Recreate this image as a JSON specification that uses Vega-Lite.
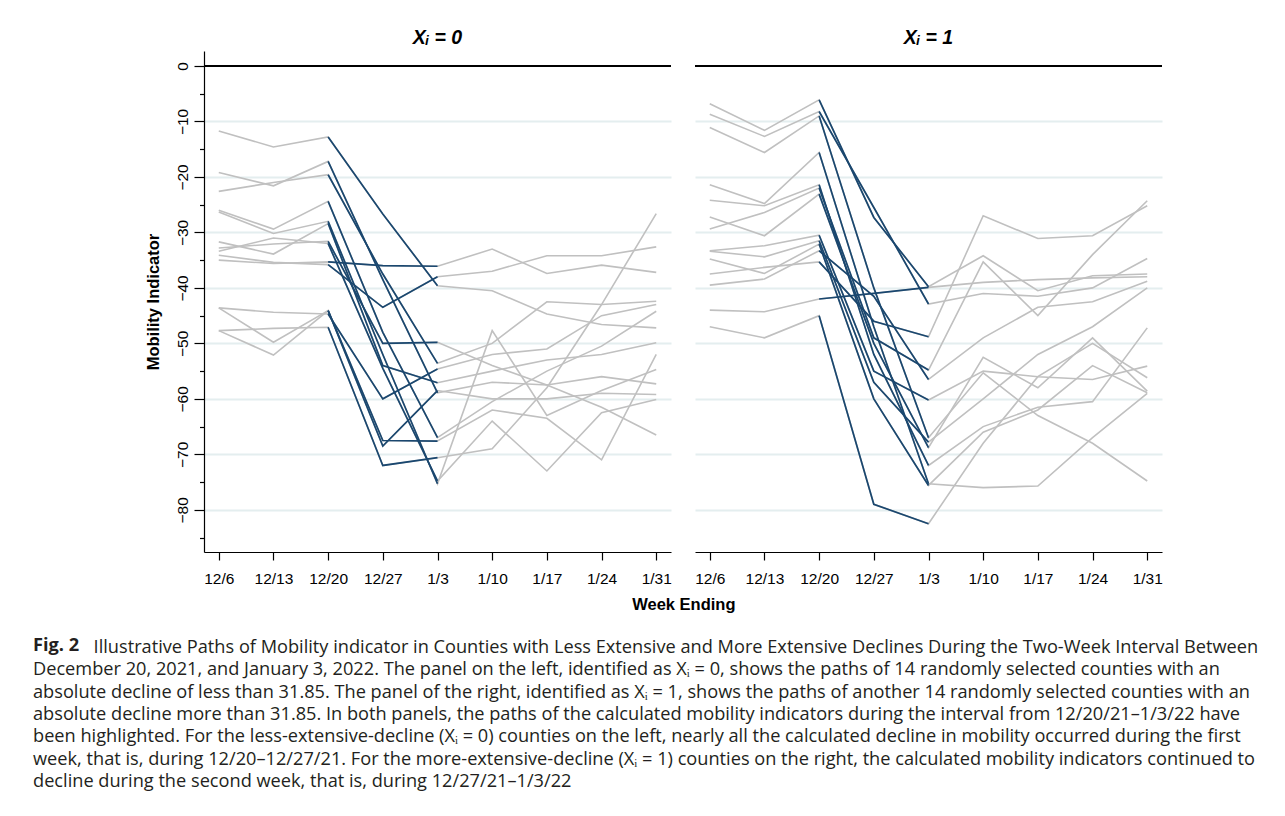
{
 "$schema": "https://vega.github.io/schema/vega-lite/v6.json",
 "background": "white",
 "padding": {"left": 33, "top": 27, "right": 5, "bottom": 5},
 "datasets": {
  "mob": [
   {"panel":0,"county":1,"week":"12/6","value":-11.7},{"panel":0,"county":1,"week":"12/13","value":-14.6},{"panel":0,"county":1,"week":"12/20","value":-12.8},{"panel":0,"county":1,"week":"12/27","value":-26.7},{"panel":0,"county":1,"week":"1/3","value":-39.6},{"panel":0,"county":1,"week":"1/10","value":-40.5},{"panel":0,"county":1,"week":"1/17","value":-44.7},{"panel":0,"county":1,"week":"1/24","value":-46.6},{"panel":0,"county":1,"week":"1/31","value":-47.2},
   {"panel":0,"county":2,"week":"12/6","value":-19.2},{"panel":0,"county":2,"week":"12/13","value":-21.6},{"panel":0,"county":2,"week":"12/20","value":-17.2},{"panel":0,"county":2,"week":"12/27","value":-38.5},{"panel":0,"county":2,"week":"1/3","value":-58.9},{"panel":0,"county":2,"week":"1/10","value":-57.0},{"panel":0,"county":2,"week":"1/17","value":-57.5},{"panel":0,"county":2,"week":"1/24","value":-56.0},{"panel":0,"county":2,"week":"1/31","value":-57.3},
   {"panel":0,"county":3,"week":"12/6","value":-22.6},{"panel":0,"county":3,"week":"12/13","value":-21.0},{"panel":0,"county":3,"week":"12/20","value":-19.6},{"panel":0,"county":3,"week":"12/27","value":-37.5},{"panel":0,"county":3,"week":"1/3","value":-53.6},{"panel":0,"county":3,"week":"1/10","value":-50.0},{"panel":0,"county":3,"week":"1/17","value":-42.5},{"panel":0,"county":3,"week":"1/24","value":-43.0},{"panel":0,"county":3,"week":"1/31","value":-42.4},
   {"panel":0,"county":4,"week":"12/6","value":-26.0},{"panel":0,"county":4,"week":"12/13","value":-29.4},{"panel":0,"county":4,"week":"12/20","value":-24.4},{"panel":0,"county":4,"week":"12/27","value":-48.0},{"panel":0,"county":4,"week":"1/3","value":-67.0},{"panel":0,"county":4,"week":"1/10","value":-60.5},{"panel":0,"county":4,"week":"1/17","value":-55.0},{"panel":0,"county":4,"week":"1/24","value":-50.5},{"panel":0,"county":4,"week":"1/31","value":-44.2},
   {"panel":0,"county":5,"week":"12/6","value":-26.3},{"panel":0,"county":5,"week":"12/13","value":-30.2},{"panel":0,"county":5,"week":"12/20","value":-28.0},{"panel":0,"county":5,"week":"12/27","value":-52.0},{"panel":0,"county":5,"week":"1/3","value":-75.3},{"panel":0,"county":5,"week":"1/10","value":-47.7},{"panel":0,"county":5,"week":"1/17","value":-63.0},{"panel":0,"county":5,"week":"1/24","value":-58.5},{"panel":0,"county":5,"week":"1/31","value":-54.7},
   {"panel":0,"county":6,"week":"12/6","value":-31.7},{"panel":0,"county":6,"week":"12/13","value":-33.9},{"panel":0,"county":6,"week":"12/20","value":-28.4},{"panel":0,"county":6,"week":"12/27","value":-54.0},{"panel":0,"county":6,"week":"1/3","value":-57.1},{"panel":0,"county":6,"week":"1/10","value":-55.0},{"panel":0,"county":6,"week":"1/17","value":-53.0},{"panel":0,"county":6,"week":"1/24","value":-52.0},{"panel":0,"county":6,"week":"1/31","value":-49.9},
   {"panel":0,"county":7,"week":"12/6","value":-32.8},{"panel":0,"county":7,"week":"12/13","value":-32.1},{"panel":0,"county":7,"week":"12/20","value":-31.6},{"panel":0,"county":7,"week":"12/27","value":-50.0},{"panel":0,"county":7,"week":"1/3","value":-49.8},{"panel":0,"county":7,"week":"1/10","value":-54.0},{"panel":0,"county":7,"week":"1/17","value":-57.5},{"panel":0,"county":7,"week":"1/24","value":-61.5},{"panel":0,"county":7,"week":"1/31","value":-66.5},
   {"panel":0,"county":8,"week":"12/6","value":-33.4},{"panel":0,"county":8,"week":"12/13","value":-31.0},{"panel":0,"county":8,"week":"12/20","value":-32.0},{"panel":0,"county":8,"week":"12/27","value":-54.5},{"panel":0,"county":8,"week":"1/3","value":-74.8},{"panel":0,"county":8,"week":"1/10","value":-64.0},{"panel":0,"county":8,"week":"1/17","value":-73.0},{"panel":0,"county":8,"week":"1/24","value":-62.5},{"panel":0,"county":8,"week":"1/31","value":-60.1},
   {"panel":0,"county":9,"week":"12/6","value":-34.1},{"panel":0,"county":9,"week":"12/13","value":-35.4},{"panel":0,"county":9,"week":"12/20","value":-35.8},{"panel":0,"county":9,"week":"12/27","value":-43.5},{"panel":0,"county":9,"week":"1/3","value":-38.0},{"panel":0,"county":9,"week":"1/10","value":-37.0},{"panel":0,"county":9,"week":"1/17","value":-34.2},{"panel":0,"county":9,"week":"1/24","value":-34.2},{"panel":0,"county":9,"week":"1/31","value":-32.6},
   {"panel":0,"county":10,"week":"12/6","value":-35.0},{"panel":0,"county":10,"week":"12/13","value":-35.6},{"panel":0,"county":10,"week":"12/20","value":-35.3},{"panel":0,"county":10,"week":"12/27","value":-36.0},{"panel":0,"county":10,"week":"1/3","value":-36.1},{"panel":0,"county":10,"week":"1/10","value":-33.0},{"panel":0,"county":10,"week":"1/17","value":-37.4},{"panel":0,"county":10,"week":"1/24","value":-35.9},{"panel":0,"county":10,"week":"1/31","value":-37.2},
   {"panel":0,"county":11,"week":"12/6","value":-43.6},{"panel":0,"county":11,"week":"12/13","value":-44.4},{"panel":0,"county":11,"week":"12/20","value":-44.7},{"panel":0,"county":11,"week":"12/27","value":-60.0},{"panel":0,"county":11,"week":"1/3","value":-54.6},{"panel":0,"county":11,"week":"1/10","value":-52.0},{"panel":0,"county":11,"week":"1/17","value":-51.0},{"panel":0,"county":11,"week":"1/24","value":-45.0},{"panel":0,"county":11,"week":"1/31","value":-43.0},
   {"panel":0,"county":12,"week":"12/6","value":-43.6},{"panel":0,"county":12,"week":"12/13","value":-49.8},{"panel":0,"county":12,"week":"12/20","value":-44.1},{"panel":0,"county":12,"week":"12/27","value":-67.5},{"panel":0,"county":12,"week":"1/3","value":-67.6},{"panel":0,"county":12,"week":"1/10","value":-62.0},{"panel":0,"county":12,"week":"1/17","value":-63.5},{"panel":0,"county":12,"week":"1/24","value":-71.0},{"panel":0,"county":12,"week":"1/31","value":-52.0},
   {"panel":0,"county":13,"week":"12/6","value":-47.7},{"panel":0,"county":13,"week":"12/13","value":-47.3},{"panel":0,"county":13,"week":"12/20","value":-47.1},{"panel":0,"county":13,"week":"12/27","value":-72.0},{"panel":0,"county":13,"week":"1/3","value":-70.6},{"panel":0,"county":13,"week":"1/10","value":-69.0},{"panel":0,"county":13,"week":"1/17","value":-58.0},{"panel":0,"county":13,"week":"1/24","value":-43.0},{"panel":0,"county":13,"week":"1/31","value":-26.6},
   {"panel":0,"county":14,"week":"12/6","value":-47.7},{"panel":0,"county":14,"week":"12/13","value":-52.1},{"panel":0,"county":14,"week":"12/20","value":-44.1},{"panel":0,"county":14,"week":"12/27","value":-68.5},{"panel":0,"county":14,"week":"1/3","value":-58.5},{"panel":0,"county":14,"week":"1/10","value":-60.0},{"panel":0,"county":14,"week":"1/17","value":-60.0},{"panel":0,"county":14,"week":"1/24","value":-59.0},{"panel":0,"county":14,"week":"1/31","value":-59.2},
   {"panel":1,"county":1,"week":"12/6","value":-6.8},{"panel":1,"county":1,"week":"12/13","value":-11.6},{"panel":1,"county":1,"week":"12/20","value":-6.1},{"panel":1,"county":1,"week":"12/27","value":-27.3},{"panel":1,"county":1,"week":"1/3","value":-39.8},{"panel":1,"county":1,"week":"1/10","value":-34.2},{"panel":1,"county":1,"week":"1/17","value":-40.5},{"panel":1,"county":1,"week":"1/24","value":-37.8},{"panel":1,"county":1,"week":"1/31","value":-37.5},
   {"panel":1,"county":2,"week":"12/6","value":-8.7},{"panel":1,"county":2,"week":"12/13","value":-12.7},{"panel":1,"county":2,"week":"12/20","value":-8.2},{"panel":1,"county":2,"week":"12/27","value":-25.5},{"panel":1,"county":2,"week":"1/3","value":-42.9},{"panel":1,"county":2,"week":"1/10","value":-41.0},{"panel":1,"county":2,"week":"1/17","value":-41.5},{"panel":1,"county":2,"week":"1/24","value":-40.0},{"panel":1,"county":2,"week":"1/31","value":-34.7},
   {"panel":1,"county":3,"week":"12/6","value":-11.1},{"panel":1,"county":3,"week":"12/13","value":-15.6},{"panel":1,"county":3,"week":"12/20","value":-9.0},{"panel":1,"county":3,"week":"12/27","value":-40.0},{"panel":1,"county":3,"week":"1/3","value":-67.0},{"panel":1,"county":3,"week":"1/10","value":-55.3},{"panel":1,"county":3,"week":"1/17","value":-63.0},{"panel":1,"county":3,"week":"1/24","value":-68.0},{"panel":1,"county":3,"week":"1/31","value":-74.8},
   {"panel":1,"county":4,"week":"12/6","value":-21.4},{"panel":1,"county":4,"week":"12/13","value":-24.8},{"panel":1,"county":4,"week":"12/20","value":-15.6},{"panel":1,"county":4,"week":"12/27","value":-47.0},{"panel":1,"county":4,"week":"1/3","value":-75.3},{"panel":1,"county":4,"week":"1/10","value":-76.0},{"panel":1,"county":4,"week":"1/17","value":-75.7},{"panel":1,"county":4,"week":"1/24","value":-67.0},{"panel":1,"county":4,"week":"1/31","value":-59.0},
   {"panel":1,"county":5,"week":"12/6","value":-24.2},{"panel":1,"county":5,"week":"12/13","value":-25.2},{"panel":1,"county":5,"week":"12/20","value":-21.4},{"panel":1,"county":5,"week":"12/27","value":-52.0},{"panel":1,"county":5,"week":"1/3","value":-72.0},{"panel":1,"county":5,"week":"1/10","value":-65.0},{"panel":1,"county":5,"week":"1/17","value":-61.5},{"panel":1,"county":5,"week":"1/24","value":-60.5},{"panel":1,"county":5,"week":"1/31","value":-47.2},
   {"panel":1,"county":6,"week":"12/6","value":-27.2},{"panel":1,"county":6,"week":"12/13","value":-30.6},{"panel":1,"county":6,"week":"12/20","value":-23.1},{"panel":1,"county":6,"week":"12/27","value":-50.0},{"panel":1,"county":6,"week":"1/3","value":-68.8},{"panel":1,"county":6,"week":"1/10","value":-52.5},{"panel":1,"county":6,"week":"1/17","value":-58.0},{"panel":1,"county":6,"week":"1/24","value":-49.0},{"panel":1,"county":6,"week":"1/31","value":-58.6},
   {"panel":1,"county":7,"week":"12/6","value":-29.4},{"panel":1,"county":7,"week":"12/13","value":-26.4},{"panel":1,"county":7,"week":"12/20","value":-22.0},{"panel":1,"county":7,"week":"12/27","value":-49.0},{"panel":1,"county":7,"week":"1/3","value":-54.8},{"panel":1,"county":7,"week":"1/10","value":-35.3},{"panel":1,"county":7,"week":"1/17","value":-45.0},{"panel":1,"county":7,"week":"1/24","value":-34.0},{"panel":1,"county":7,"week":"1/31","value":-24.3},
   {"panel":1,"county":8,"week":"12/6","value":-33.3},{"panel":1,"county":8,"week":"12/13","value":-32.4},{"panel":1,"county":8,"week":"12/20","value":-30.5},{"panel":1,"county":8,"week":"12/27","value":-55.0},{"panel":1,"county":8,"week":"1/3","value":-60.2},{"panel":1,"county":8,"week":"1/10","value":-55.0},{"panel":1,"county":8,"week":"1/17","value":-56.0},{"panel":1,"county":8,"week":"1/24","value":-56.5},{"panel":1,"county":8,"week":"1/31","value":-54.1},
   {"panel":1,"county":9,"week":"12/6","value":-33.4},{"panel":1,"county":9,"week":"12/13","value":-34.4},{"panel":1,"county":9,"week":"12/20","value":-31.5},{"panel":1,"county":9,"week":"12/27","value":-57.0},{"panel":1,"county":9,"week":"1/3","value":-67.8},{"panel":1,"county":9,"week":"1/10","value":-60.0},{"panel":1,"county":9,"week":"1/17","value":-52.0},{"panel":1,"county":9,"week":"1/24","value":-47.0},{"panel":1,"county":9,"week":"1/31","value":-40.0},
   {"panel":1,"county":10,"week":"12/6","value":-34.8},{"panel":1,"county":10,"week":"12/13","value":-37.4},{"panel":1,"county":10,"week":"12/20","value":-32.1},{"panel":1,"county":10,"week":"12/27","value":-60.0},{"panel":1,"county":10,"week":"1/3","value":-75.6},{"panel":1,"county":10,"week":"1/10","value":-66.0},{"panel":1,"county":10,"week":"1/17","value":-62.0},{"panel":1,"county":10,"week":"1/24","value":-54.0},{"panel":1,"county":10,"week":"1/31","value":-58.9},
   {"panel":1,"county":11,"week":"12/6","value":-37.5},{"panel":1,"county":11,"week":"12/13","value":-36.3},{"panel":1,"county":11,"week":"12/20","value":-35.3},{"panel":1,"county":11,"week":"12/27","value":-46.0},{"panel":1,"county":11,"week":"1/3","value":-48.8},{"panel":1,"county":11,"week":"1/10","value":-27.0},{"panel":1,"county":11,"week":"1/17","value":-31.1},{"panel":1,"county":11,"week":"1/24","value":-30.6},{"panel":1,"county":11,"week":"1/31","value":-25.2},
   {"panel":1,"county":12,"week":"12/6","value":-39.5},{"panel":1,"county":12,"week":"12/13","value":-38.4},{"panel":1,"county":12,"week":"12/20","value":-33.3},{"panel":1,"county":12,"week":"12/27","value":-41.5},{"panel":1,"county":12,"week":"1/3","value":-56.5},{"panel":1,"county":12,"week":"1/10","value":-49.0},{"panel":1,"county":12,"week":"1/17","value":-43.5},{"panel":1,"county":12,"week":"1/24","value":-42.5},{"panel":1,"county":12,"week":"1/31","value":-38.8},
   {"panel":1,"county":13,"week":"12/6","value":-44.0},{"panel":1,"county":13,"week":"12/13","value":-44.3},{"panel":1,"county":13,"week":"12/20","value":-42.0},{"panel":1,"county":13,"week":"12/27","value":-41.0},{"panel":1,"county":13,"week":"1/3","value":-39.9},{"panel":1,"county":13,"week":"1/10","value":-39.0},{"panel":1,"county":13,"week":"1/17","value":-38.5},{"panel":1,"county":13,"week":"1/24","value":-38.2},{"panel":1,"county":13,"week":"1/31","value":-38.0},
   {"panel":1,"county":14,"week":"12/6","value":-47.0},{"panel":1,"county":14,"week":"12/13","value":-49.0},{"panel":1,"county":14,"week":"12/20","value":-45.0},{"panel":1,"county":14,"week":"12/27","value":-79.0},{"panel":1,"county":14,"week":"1/3","value":-82.5},{"panel":1,"county":14,"week":"1/10","value":-68.0},{"panel":1,"county":14,"week":"1/17","value":-56.0},{"panel":1,"county":14,"week":"1/24","value":-50.0},{"panel":1,"county":14,"week":"1/31","value":-56.2}
  ]
 },
 "title": {
  "text": "Fig. 2",
  "subtitle": [
   "\u200b\u2003\u2003\u2003\u2009\u2009Illustrative Paths of Mobility indicator in Counties with Less Extensive and More Extensive Declines During the Two-Week Interval Between",
   "December 20, 2021, and January 3, 2022. The panel on the left, identified as Xᵢ = 0, shows the paths of 14 randomly selected counties with an",
   "absolute decline of less than 31.85. The panel of the right, identified as Xᵢ = 1, shows the paths of another 14 randomly selected counties with an",
   "absolute decline more than 31.85. In both panels, the paths of the calculated mobility indicators during the interval from 12/20/21–1/3/22 have",
   "been highlighted. For the less-extensive-decline (Xᵢ = 0) counties on the left, nearly all the calculated decline in mobility occurred during the first",
   "week, that is, during 12/20–12/27/21. For the more-extensive-decline (Xᵢ = 1) counties on the right, the calculated mobility indicators continued to",
   "decline during the second week, that is, during 12/27/21–1/3/22"
  ],
  "orient": "bottom",
  "anchor": "start",
  "frame": "bounds",
  "font": "Open Sans",
  "fontSize": 18.2,
  "fontWeight": "bold",
  "lineHeight": 22,
  "color": "#231f20",
  "subtitleFont": "Open Sans",
  "subtitleFontSize": 18.2,
  "subtitleFontWeight": "normal",
  "subtitleLineHeight": 22.3,
  "subtitleColor": "#231f20",
  "subtitlePadding": -16,
  "offset": 24,
  "dx": -112
 },
 "vconcat": [
  {
   "title": {"text": "Week Ending", "orient": "bottom", "anchor": "middle", "font": "Liberation Sans", "fontSize": 16.5, "fontWeight": "bold", "color": "#000000", "offset": 10, "dx": 30},
   "spacing": 22,
   "hconcat": [
    {
     "width": 467,
     "height": 501,
     "title": {"text": "Xᵢ = 0", "font": "Liberation Sans", "fontSize": 19.5, "fontWeight": "bold", "fontStyle": "italic", "color": "#000000", "anchor": "middle", "offset": 3},
     "data": {"name": "mob"},
     "transform": [{"filter": "datum.panel === 0"}],
     "encoding": {
      "x": {"field": "week", "type": "ordinal", "sort": ["12/6","12/13","12/20","12/27","1/3","1/10","1/17","1/24","1/31"], "scale": {"type": "point", "padding": 0.27},
            "axis": {"title": null, "labelAngle": 0, "tickSize": 8, "labelPadding": 11}},
      "y": {"field": "value", "type": "quantitative", "scale": {"domain": [-87.6, 2.7], "nice": false, "zero": false},
            "axis": {"title": "Mobility Indicator", "values": [-85,-80,-75,-70,-65,-60,-55,-50,-45,-40,-35,-30,-25,-20,-15,-10,-5,0],
                     "labelExpr": "datum.value % 10 === 0 ? datum.label : ''", "labelAngle": 270, "labelAlign": "center", "labelBaseline": "bottom", "labelPadding": 4,
                     "tickSize": {"condition": {"test": "datum.value % 10 !== 0", "value": 4.5}, "value": 10},
                     "gridOpacity": {"condition": {"test": "datum.value % 10 !== 0 || datum.value === 0", "value": 0}, "value": 1},
                     "titlePadding": 14}}
     },
     "layer": [
      {"mark": {"type": "line", "color": "#c0c0c0", "strokeWidth": 1.6}, "encoding": {"detail": {"field": "county"}}},
      {"transform": [{"filter": {"field": "week", "oneOf": ["12/20","12/27","1/3"]}}], "mark": {"type": "line", "color": "#1a476f", "strokeWidth": 1.7}, "encoding": {"detail": {"field": "county"}}},
      {"mark": {"type": "rule", "color": "#000000", "strokeWidth": 1.3}, "encoding": {"y": {"datum": 0}, "x": null}}
     ]
    },
    {
     "width": 467,
     "height": 501,
     "title": {"text": "Xᵢ = 1", "font": "Liberation Sans", "fontSize": 19.5, "fontWeight": "bold", "fontStyle": "italic", "color": "#000000", "anchor": "middle", "offset": 3},
     "data": {"name": "mob"},
     "transform": [{"filter": "datum.panel === 1"}],
     "encoding": {
      "x": {"field": "week", "type": "ordinal", "sort": ["12/6","12/13","12/20","12/27","1/3","1/10","1/17","1/24","1/31"], "scale": {"type": "point", "padding": 0.27},
            "axis": {"title": null, "labelAngle": 0, "tickSize": 8, "labelPadding": 11}},
      "y": {"field": "value", "type": "quantitative", "scale": {"domain": [-87.6, 2.7], "nice": false, "zero": false},
            "axis": {"title": null, "labels": false, "ticks": false, "domain": false, "values": [-80,-70,-60,-50,-40,-30,-20,-10]}}
     },
     "layer": [
      {"mark": {"type": "line", "color": "#c0c0c0", "strokeWidth": 1.6}, "encoding": {"detail": {"field": "county"}}},
      {"transform": [{"filter": {"field": "week", "oneOf": ["12/20","12/27","1/3"]}}], "mark": {"type": "line", "color": "#1a476f", "strokeWidth": 1.7}, "encoding": {"detail": {"field": "county"}}},
      {"mark": {"type": "rule", "color": "#000000", "strokeWidth": 1.3}, "encoding": {"y": {"datum": 0}, "x": null}}
     ]
    }
   ]
  }
 ],
 "config": {
  "view": {"stroke": null},
  "font": "Liberation Sans",
  "axis": {"labelFont": "Liberation Sans", "labelFontSize": 15.5, "labelColor": "#000000", "tickColor": "#000000", "tickWidth": 1.2, "domainColor": "#000000", "domainWidth": 1.2, "titleFont": "Liberation Sans", "titleFontSize": 16.5, "titleFontWeight": "bold", "titleColor": "#000000", "gridColor": "#e4eeef", "gridWidth": 1.8},
  "axisX": {"grid": false},
  "axisY": {"grid": true}
 }
}
